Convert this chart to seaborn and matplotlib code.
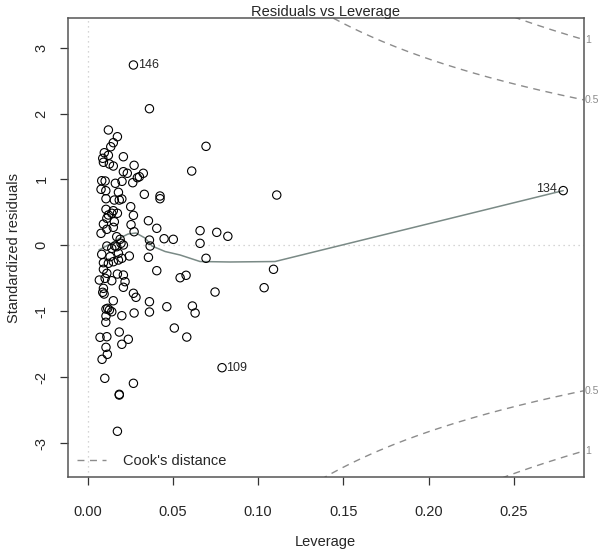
import matplotlib
matplotlib.use("Agg")
import matplotlib.pyplot as plt
import matplotlib.transforms as mtransforms
import seaborn as sns
import numpy as np
import pandas as pd

# leverage / standardized residual pairs
leverage = [0.0268, 0.0362, 0.0121, 0.0174, 0.0150, 0.0135, 0.0694, 0.0097, 0.0121, 0.0088,
            0.0209, 0.0092, 0.0127, 0.0150, 0.0272, 0.0209, 0.0232, 0.0326, 0.0303, 0.0291,
            0.0264, 0.0610, 0.0201, 0.0162, 0.0082, 0.0102, 0.0078, 0.0106, 0.0180, 0.0332,
            0.0424, 0.0424, 0.0107, 0.0156, 0.0200, 0.0185, 0.0252, 0.0150, 0.0107, 0.0174,
            0.0121, 0.0268, 0.0141, 0.0112, 0.0156, 0.0092, 0.0356, 0.0254, 0.0405, 0.0150,
            0.0112, 0.0078, 0.0272, 0.0659, 0.0757, 0.0822, 0.0170, 0.0190, 0.0362, 0.0448,
            0.0502, 0.0659, 0.0112, 0.0160, 0.0209, 0.0195, 0.0366, 0.0082, 0.0131, 0.0180,
            0.0141, 0.0170, 0.0200, 0.0244, 0.0356, 0.0180, 0.0150, 0.0092, 0.0121, 0.0694,
            0.0092, 0.0405, 0.0112, 0.0174, 0.0209, 0.0542, 0.0577, 0.0068, 0.0102, 0.0141,
            0.0219, 0.0209, 0.0092, 0.0088, 0.0096, 0.0268, 0.0283, 0.0747, 0.0150, 0.0362,
            0.0464, 0.0614, 0.0630, 0.0107, 0.0127, 0.0141, 0.0117, 0.0272, 0.0362, 0.0200,
            0.0107, 0.0106, 0.0508, 0.0185, 0.0072, 0.0112, 0.0581, 0.0238, 0.0200, 0.0107,
            0.0115, 0.0084, 0.0788, 0.0100, 0.0268, 0.0185, 0.0185, 0.0174, 0.2790, 0.1090,
            0.1035, 0.1109]
std_resid = [2.736, 2.073, 1.750, 1.648, 1.557, 1.496, 1.502, 1.405, 1.366, 1.320,
             1.344, 1.260, 1.234, 1.203, 1.214, 1.117, 1.093, 1.093, 1.041, 1.026,
             0.950, 1.127, 0.971, 0.941, 0.980, 0.976, 0.850, 0.829, 0.804, 0.774,
             0.748, 0.707, 0.707, 0.687, 0.703, 0.687, 0.586, 0.525, 0.546, 0.486,
             0.460, 0.455, 0.486, 0.410, 0.358, 0.323, 0.373, 0.313, 0.258, 0.273,
             0.243, 0.182, 0.206, 0.222, 0.197, 0.137, 0.131, 0.091, 0.080, 0.100,
             0.091, 0.030, -0.011, -0.011, 0.005, 0.030, -0.011, -0.137, -0.173, -0.121,
             -0.046, -0.021, -0.197, -0.162, -0.182, -0.223, -0.249, -0.264, -0.273, -0.197,
             -0.364, -0.385, -0.425, -0.436, -0.451, -0.492, -0.455, -0.527, -0.501, -0.537,
             -0.552, -0.637, -0.653, -0.713, -0.739, -0.728, -0.789, -0.709, -0.841, -0.856,
             -0.932, -0.921, -1.027, -0.967, -0.982, -1.008, -0.956, -1.027, -1.012, -1.068,
             -1.073, -1.168, -1.255, -1.316, -1.396, -1.387, -1.392, -1.426, -1.502, -1.548,
             -1.654, -1.730, -1.857, -2.018, -2.094, -2.261, -2.272, -2.822, 0.830, -0.364,
             -0.643, 0.763]

# lowess smooth
smooth_lev = [0.0066, 0.0131, 0.0190, 0.0236, 0.0283, 0.0336, 0.0377, 0.0454, 0.0542,
              0.0659, 0.0835, 0.1099, 0.2790]
smooth_res = [-0.071, 0.020, 0.111, 0.171, 0.187, 0.111, -0.011, -0.094, -0.147,
              -0.246, -0.253, -0.246, 0.830]

# labelled observations
label_ids = ["146", "134", "109"]
label_lev = [0.0268, 0.2790, 0.0788]
label_res = [2.736, 0.830, -1.857]

# Cook's distance contours (model has 4 coefficients)
n_coef = 4
cook_levels = [0.5, 1]

df = pd.DataFrame({"lev": leverage, "res": std_resid})
smooth = pd.DataFrame({"lev": smooth_lev, "res": smooth_res})

sns.set_style("white")
plt.rcParams["font.family"] = ["Liberation Sans", "DejaVu Sans"]

fig = plt.figure(figsize=(6.0, 5.49), dpi=100)
ax = fig.add_axes([0.1133, 0.1311, 0.8592, 0.8356])

xlim = (-0.0116, 0.2909)
ylim = (-3.516, 3.445)

ax.axhline(0, color="#c8c8c8", lw=0.9, ls=(0, (1, 3)), zorder=1)
ax.axvline(0, color="#c8c8c8", lw=0.9, ls=(0, (1, 3)), zorder=1)

sns.scatterplot(data=df, x="lev", y="res", ax=ax, marker="o", s=36,
                facecolor="none", edgecolor="black", linewidth=0.8, zorder=3)
sns.lineplot(data=smooth, x="lev", y="res", ax=ax, sort=False, estimator=None,
             color="#7a8a86", lw=1.1, zorder=2)

hh = np.linspace(0.001, xlim[1], 200)
lbl_tr = mtransforms.blended_transform_factory(ax.transAxes, ax.transData)
for c in cook_levels:
    r = np.sqrt(c * n_coef * (1 - hh) / hh)
    for sgn in (1, -1):
        ax.plot(hh, sgn * r, color="#8c8c8c", lw=1, ls=(0, (5, 4)), zorder=1)
        ax.text(1.003, sgn * r[-1], f"{c:g}", transform=lbl_tr, color="#8c8c8c",
                fontsize=7.6, ha="left", va="center", clip_on=False)

for name, lx, ly in zip(label_ids, label_lev, label_res):
    if lx > 0.2:
        ax.text(lx - 0.0035, ly + 0.03, name, fontsize=9, ha="right", va="center")
    else:
        ax.text(lx + 0.0025, ly, name, fontsize=9, ha="left", va="center")

ax.plot([], [], color="#8c8c8c", lw=1, ls=(0, (5, 4)), label="Cook's distance")
ax.legend(loc="lower left", frameon=False, fontsize=10.5, handlelength=2.0,
          borderaxespad=0.2, handletextpad=1.2)

ax.set_xlim(*xlim)
ax.set_ylim(*ylim)
ax.set_xticks([0.00, 0.05, 0.10, 0.15, 0.20, 0.25])
ax.set_xticklabels(["0.00", "0.05", "0.10", "0.15", "0.20", "0.25"])
ax.set_yticks([-3, -2, -1, 0, 1, 2, 3])
ax.set_yticklabels(["-3", "-2", "-1", "0", "1", "2", "3"], rotation=90, va="center")
ax.tick_params(axis="both", direction="out", length=6, width=0.9, color="#333333",
               labelsize=10.5, bottom=True, left=True)
ax.tick_params(axis="x", pad=14)
ax.tick_params(axis="y", pad=8)
for sp in ax.spines.values():
    sp.set_color("#555555")
    sp.set_linewidth(1.1)

ax.set_xlabel("Leverage", fontsize=10.5, labelpad=12)
ax.set_ylabel("Standardized residuals", fontsize=10.5, labelpad=10)
ax.set_title("Residuals vs Leverage", fontsize=10.5, pad=2)

fig.savefig("out.png", dpi=100)
